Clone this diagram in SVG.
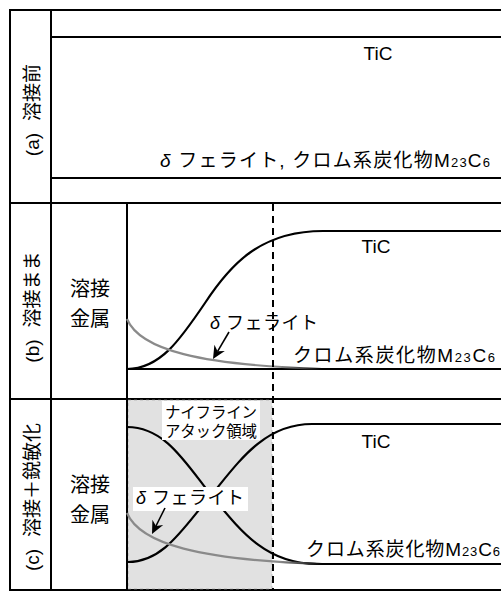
<svg xmlns="http://www.w3.org/2000/svg" width="501" height="592" viewBox="0 0 501 592">
<style>
.t{font-family:"Liberation Sans","Noto Sans CJK JP",sans-serif;fill:#000}
.ln{stroke:#000;stroke-width:2;fill:none}
.crv{stroke:#000;stroke-width:2.2;fill:none}
.gry{stroke-width:2.2;fill:none}
.dash{stroke:#000;stroke-width:2;stroke-dasharray:7,5;fill:none}
.sub{font-size:13px}
.d{font-style:italic}
.arr{stroke:#000;stroke-width:1.6;fill:none}
.head{fill:#000;stroke:none}
</style>
<defs>
<linearGradient id="gb" gradientUnits="userSpaceOnUse" x1="280" y1="0" x2="322" y2="0">
<stop offset="0" stop-color="#8a8a8a"/><stop offset="1" stop-color="#000"/>
</linearGradient>
</defs>

<g id="frame">
<line class="ln" x1="10" y1="10" x2="501" y2="10"/>
<line class="ln" x1="10" y1="590" x2="501" y2="590"/>
<line class="ln" x1="10" y1="9" x2="10" y2="591" stroke-width="2.5"/>
<line class="ln" x1="51" y1="10" x2="51" y2="590"/>
<line class="ln" x1="51" y1="37" x2="501" y2="37"/>
<line class="ln" x1="51" y1="178" x2="501" y2="178"/>
<line class="ln" x1="10" y1="203" x2="501" y2="203"/>
<line class="ln" x1="10" y1="399" x2="501" y2="399"/>
</g>

<g id="labels-left">
<text class="t" font-size="19" text-anchor="middle" transform="translate(39,110) rotate(-90)">(a)<tspan dx="12">溶接前</tspan></text>
<text class="t" font-size="19" text-anchor="middle" transform="translate(39,307) rotate(-90)">(b)<tspan dx="12">溶接まま</tspan></text>
<text class="t" font-size="19" text-anchor="middle" transform="translate(39,497) rotate(-90)">(c)<tspan dx="12">溶接＋鋭敏化</tspan></text>
</g>

<g id="panel-a">
<text class="t" font-size="19" x="378" y="60" text-anchor="middle">TiC</text>
<text class="t" font-size="19" x="160" y="167" textLength="330"><tspan class="d">δ</tspan> フェライト, クロム系炭化物M<tspan class="sub">23</tspan>C<tspan class="sub">6</tspan></text>
</g>

<g id="panel-b">
<line class="ln" x1="127" y1="203" x2="127" y2="399"/>
<text class="t" font-size="20" x="90" y="296" text-anchor="middle">溶接</text>
<text class="t" font-size="20" x="90" y="326" text-anchor="middle">金属</text>
<line class="ln" x1="127" y1="369" x2="501" y2="369"/>
<path class="crv" d="M127,369 C160,369 180,340 205,303 C230,265 260,231 323,231 L501,231"/>
<path class="gry" stroke="url(#gb)" d="M127,319 C140,350 200,365 322,369"/>
<text class="t" font-size="19" x="376" y="253" text-anchor="middle">TiC</text>
<text class="t" font-size="18" x="210" y="329" textLength="108"><tspan class="d">δ</tspan> フェライト</text>
<text class="t" font-size="19" x="293" y="362" textLength="202">クロム系炭化物M<tspan class="sub">23</tspan>C<tspan class="sub">6</tspan></text>
</g>

<g id="panel-c">
<rect x="128" y="400" width="144" height="189" fill="#e1e1e1" stroke="#9a9a9a" stroke-width="0.6" stroke-dasharray="3,3"/>
<line class="ln" x1="127" y1="399" x2="127" y2="590"/>
<text class="t" font-size="20" x="90" y="492" text-anchor="middle">溶接</text>
<text class="t" font-size="20" x="90" y="522" text-anchor="middle">金属</text>
<path class="crv" d="M128,562 C165,562 185,525 213,493 C240,460 265,424 312,424 L501,424"/>
<path class="crv" d="M127,427 C165,427 185,462 211,495 C240,530 265,564 317,564 L501,564"/>
<path class="gry" stroke="url(#gb)" d="M127,513 C140,544 200,560 322,564"/>
<rect x="162" y="401" width="98" height="39" fill="#fff"/>
<text class="t" font-size="15.5" x="165" y="418" textLength="92">ナイフライン</text>
<text class="t" font-size="15.5" x="165" y="437" textLength="92">アタック領域</text>
<rect x="133" y="487" width="115" height="24" fill="#fff"/>
<text class="t" font-size="18" x="136" y="504" textLength="108"><tspan class="d">δ</tspan> フェライト</text>
<text class="t" font-size="19" x="376" y="448" text-anchor="middle">TiC</text>
<text class="t" font-size="19" x="306" y="556" textLength="194">クロム系炭化物M<tspan class="sub">23</tspan>C<tspan class="sub">6</tspan></text>
</g>

<g id="connectors">
<line class="dash" x1="273" y1="204" x2="273" y2="590"/>
<line class="arr" x1="229" y1="332" x2="217.6" y2="351.3"/>
<path class="head" d="M213,359 L224.8,350.9 L217.6,351.3 L214.4,344.7 Z"/>
<line class="arr" x1="165" y1="508" x2="156" y2="526"/>
<path class="head" d="M152,534 L163.2,525.1 L156,526 L152.4,519.7 Z"/>
</g>
</svg>
